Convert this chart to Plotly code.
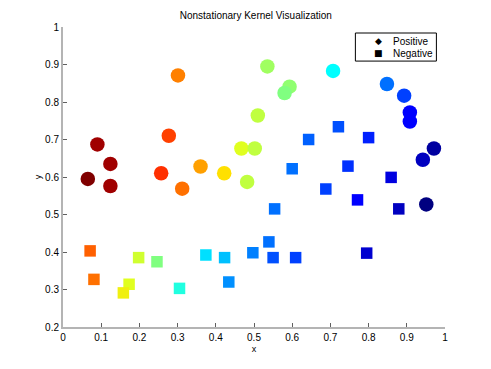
import plotly.graph_objects as go

# Positive samples (circles)
pos_x = [0.301, 0.535, 0.593, 0.580, 0.510, 0.277, 0.090, 0.467, 0.502, 0.124,
         0.360, 0.257, 0.422, 0.065, 0.124, 0.312, 0.482,
         0.707, 0.848, 0.893, 0.908, 0.908, 0.971, 0.942, 0.951]
pos_y = [0.871, 0.895, 0.841, 0.824, 0.764, 0.710, 0.687, 0.676, 0.676, 0.635,
         0.628, 0.610, 0.610, 0.595, 0.576, 0.569, 0.587,
         0.883, 0.848, 0.817, 0.772, 0.748, 0.676, 0.646, 0.527]
pos_c = ["#ff8000", "#a0ff60", "#90ff70", "#80ff80", "#c0ff40", "#ff4000", "#a00000",
         "#e0ff20", "#c0ff40", "#a00000", "#ffa000", "#ff3000", "#ffe000", "#800000",
         "#a00000", "#ff7000", "#c0ff40",
         "#00ffff", "#0070ff", "#0040ff", "#0000ff", "#0000ff", "#0000a0", "#0000c0",
         "#000080"]

# Negative samples (squares)
neg_x = [0.721, 0.643, 0.800, 0.600, 0.746, 0.859, 0.688, 0.771, 0.879, 0.554,
         0.795, 0.609, 0.550, 0.539, 0.497, 0.423, 0.374, 0.434, 0.305, 0.246,
         0.198, 0.173, 0.158, 0.071, 0.081]
neg_y = [0.734, 0.700, 0.705, 0.622, 0.629, 0.599, 0.568, 0.539, 0.515, 0.515,
         0.397, 0.385, 0.385, 0.427, 0.398, 0.385, 0.392, 0.320, 0.303, 0.374,
         0.385, 0.314, 0.291, 0.403, 0.327]
neg_c = ["#0050ff", "#0060ff", "#0020ff", "#0070ff", "#0030ff", "#0000e0", "#0040ff",
         "#0000ff", "#0000c0", "#0070ff", "#0000d0", "#0040ff", "#0050ff", "#0070ff",
         "#0080ff", "#00c0ff", "#00e0ff", "#0090ff", "#20ffe0", "#80ff80", "#d0ff30",
         "#e0ff20", "#f0f010", "#ff6000", "#ff7000"]

ticks_x = [0, 0.1, 0.2, 0.3, 0.4, 0.5, 0.6, 0.7, 0.8, 0.9, 1]
ticks_x_text = ["0", "0.1", "0.2", "0.3", "0.4", "0.5", "0.6", "0.7", "0.8", "0.9", "1"]
ticks_y = [0.2, 0.3, 0.4, 0.5, 0.6, 0.7, 0.8, 0.9, 1]
ticks_y_text = ["0.2", "0.3", "0.4", "0.5", "0.6", "0.7", "0.8", "0.9", "1"]

legend_labels = ["Positive", "Negative"]
legend_glyphs = ["\u25C6", "\u25A0"]

font = "Liberation Sans, Arial, Helvetica, sans-serif"

fig = go.Figure()
fig.add_trace(go.Scatter(x=pos_x, y=pos_y, mode="markers", showlegend=False, name="Positive",
                         marker=dict(symbol="circle", size=14.5, color=pos_c, line=dict(width=0))))
fig.add_trace(go.Scatter(x=neg_x, y=neg_y, mode="markers", showlegend=False, name="Negative",
                         marker=dict(symbol="square", size=11.5, color=neg_c, line=dict(width=0))))

axis_common = dict(showgrid=False, zeroline=False, showline=True, linecolor="#b4b4b4",
                   linewidth=2, ticks="inside", ticklen=4, tickcolor="#606060",
                   tickfont=dict(size=10, color="black", family=font), mirror=False)

# manual legend box (paper coordinates)
fig.add_shape(type="rect", xref="paper", yref="paper", x0=0.7654, x1=0.9775,
              y0=0.8864, y1=0.980, line=dict(color="black", width=1), fillcolor="white",
              layer="above")
legend_rows = [0.952, 0.912]
for lab, gl, yy in zip(legend_labels, legend_glyphs, legend_rows):
    fig.add_annotation(xref="paper", yref="paper", x=0.8272, y=yy, text=gl,
                       showarrow=False, xanchor="center", yanchor="middle",
                       font=dict(size=9, color="black", family="DejaVu Sans"))
    fig.add_annotation(xref="paper", yref="paper", x=0.858, y=yy, text=lab,
                       showarrow=False, xanchor="left", yanchor="middle",
                       font=dict(size=10, color="black", family=font))

fig.update_layout(
    width=483, height=361,
    margin=dict(l=55, r=46, t=19, b=42),
    paper_bgcolor="white", plot_bgcolor="white",
    showlegend=False,
    font=dict(family=font, size=10, color="black"),
    title=dict(text="Nonstationary Kernel Visualization", x=0.513, xanchor="center",
               y=0.979, yanchor="middle", font=dict(size=10, family=font, color="black")),
    xaxis=dict(range=[0, 1], tickvals=ticks_x, ticktext=ticks_x_text,
               title=dict(text="x", font=dict(size=9), standoff=4), **axis_common),
    yaxis=dict(range=[0.2, 1], tickvals=ticks_y, ticktext=ticks_y_text,
               title=dict(text="y", font=dict(size=9), standoff=2), **axis_common),
)

fig.write_html("out.html")
